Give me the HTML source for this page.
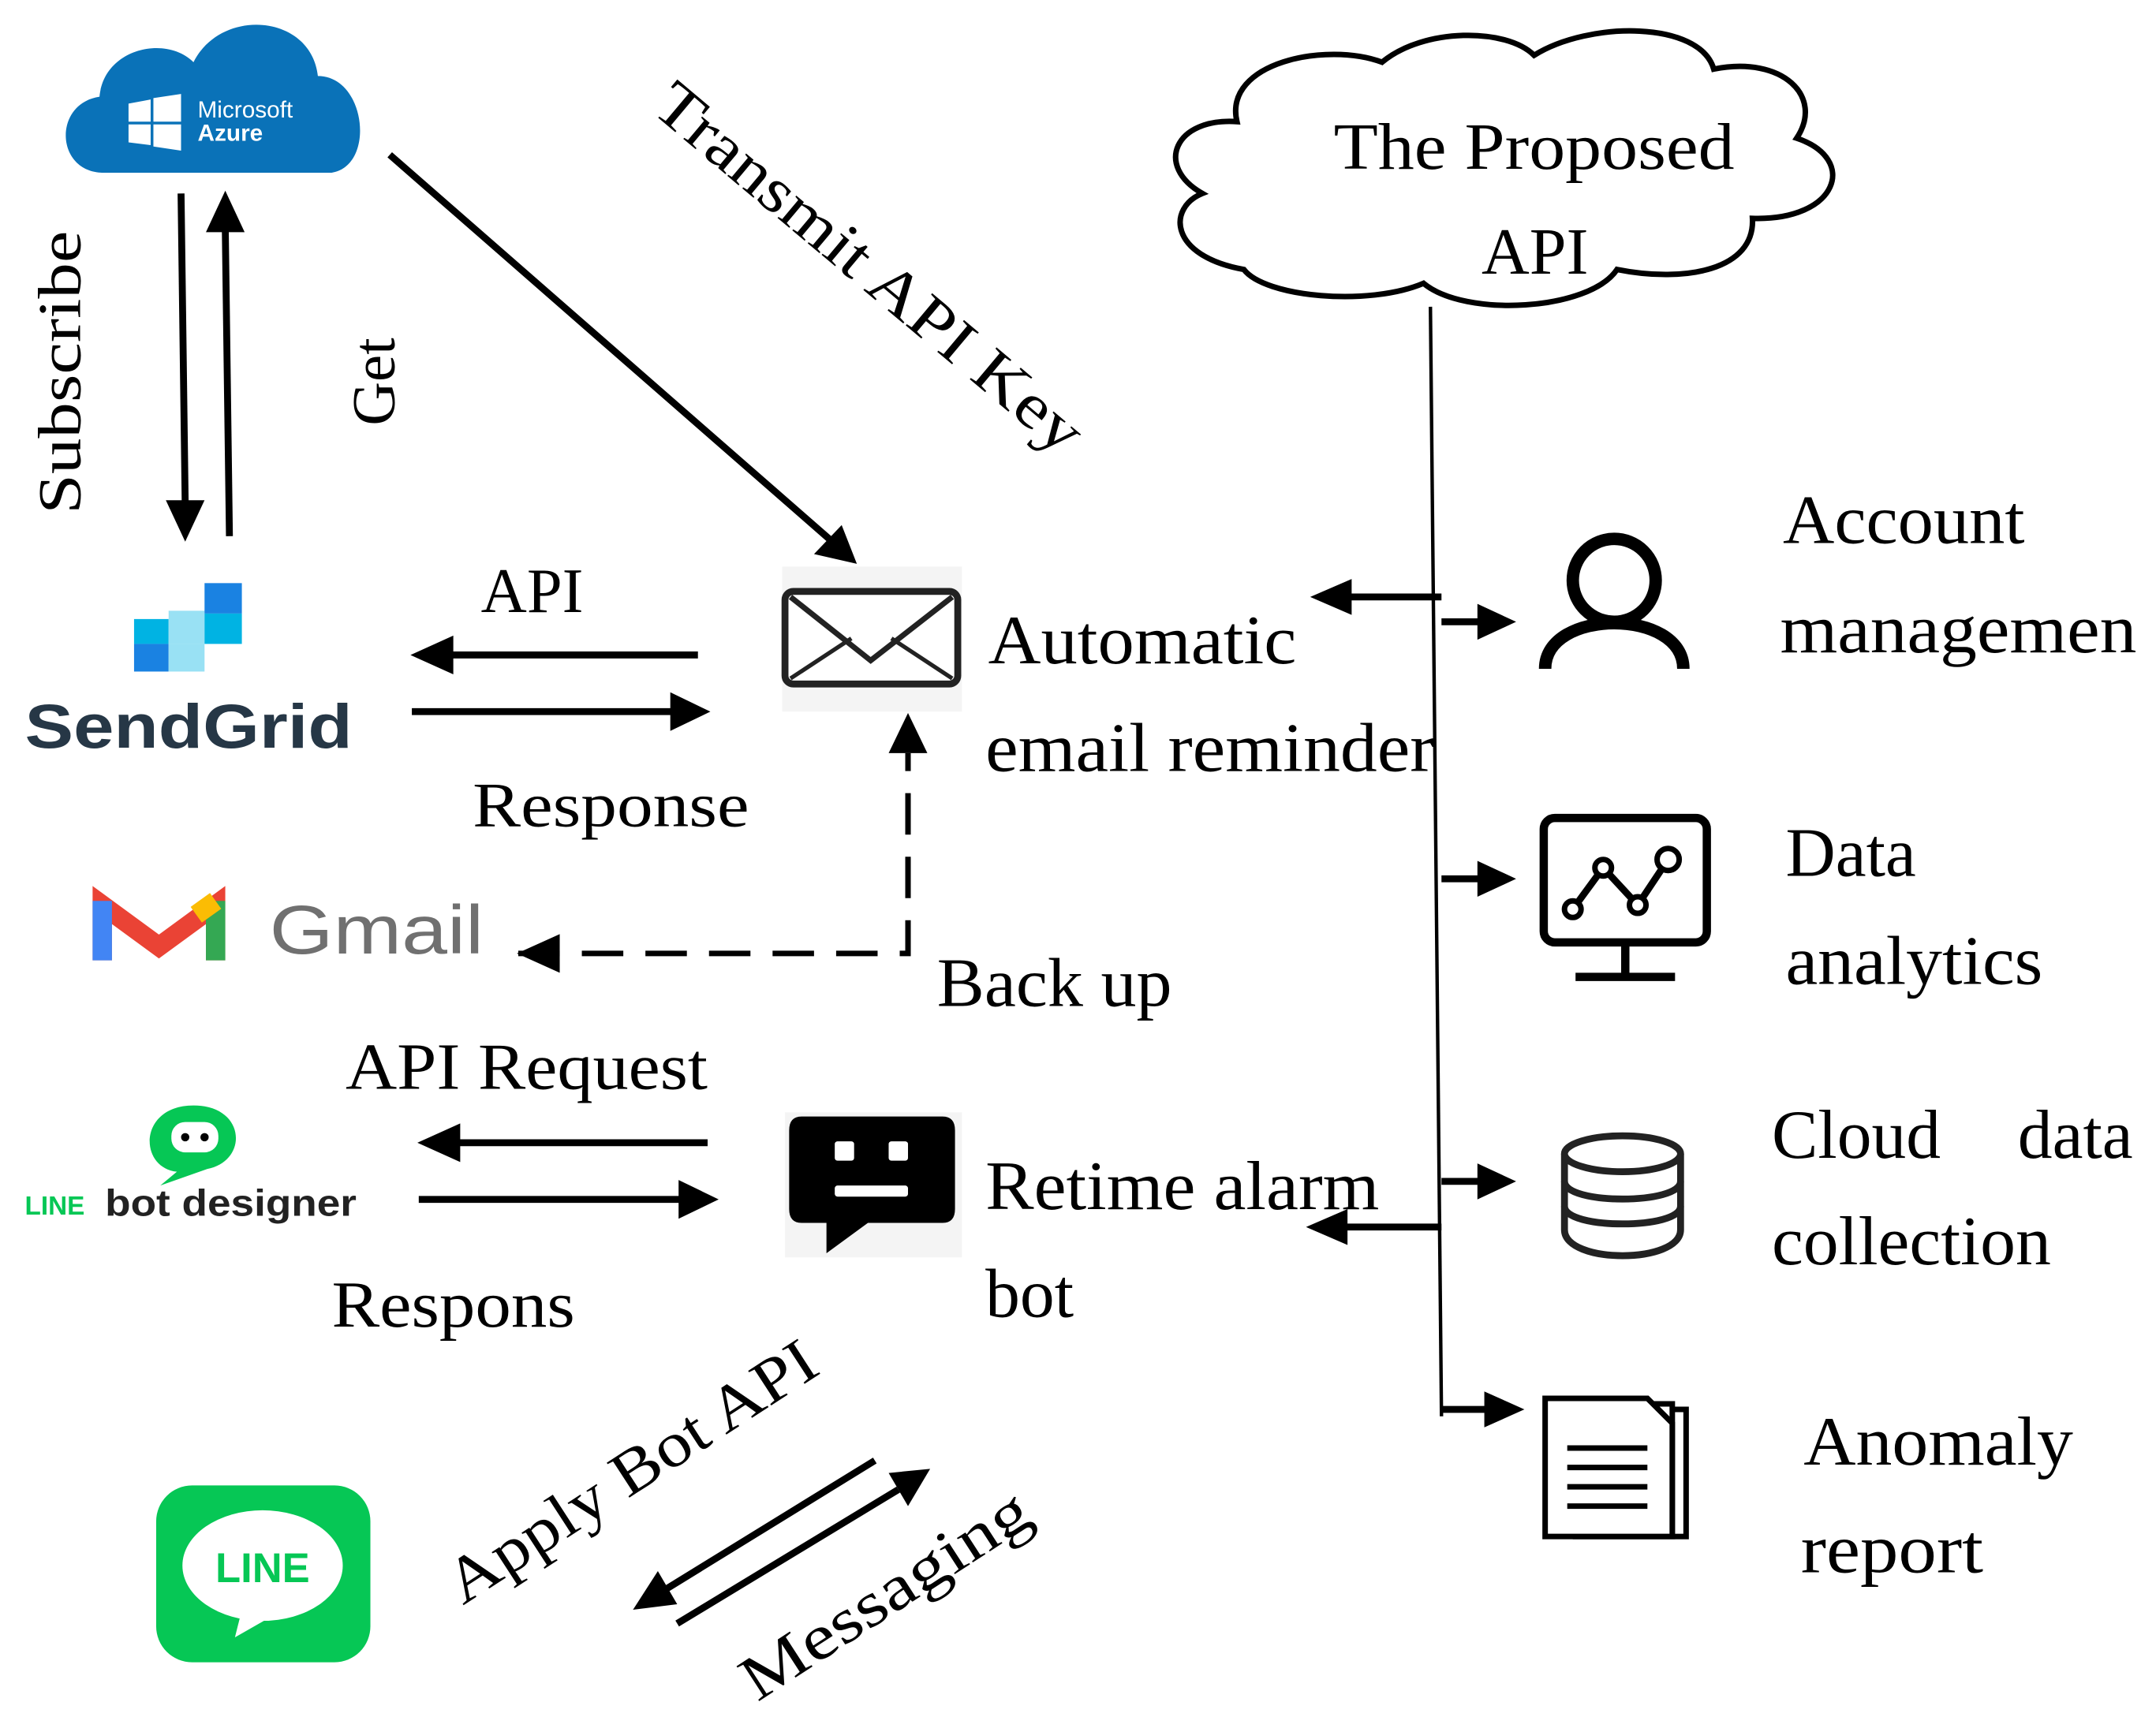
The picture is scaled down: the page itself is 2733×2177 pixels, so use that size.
<!DOCTYPE html>
<html><head><meta charset="utf-8"><style>html,body{margin:0;padding:0;background:#fff}svg{display:block}text{}</style></head>
<body>
<svg width="2733" height="2177" viewBox="0 0 1560 1242.6" xmlns="http://www.w3.org/2000/svg" font-family="Liberation Serif, serif">
<rect width="1560" height="1243" fill="#fff"/>
<!-- Azure cloud -->
<path d="M75,125 C40,125 38,75 72,70 C75,35 120,25 140,45 C160,5 225,10 230,55 C265,55 272,120 240,125 Z" fill="#0a72b8"/>
<g fill="#fff"><path d="M93,75 l16,-3 v16 h-16z M111,71 l20,-3 v20 h-20z M93,90 h16 v15 l-16,-2z M111,90 h20 v19 l-20,-3z"/></g>
<text x="143" y="85" fill="#fff" font-family="Liberation Sans,sans-serif" font-size="17">Microsoft</text>
<text x="143" y="102" fill="#fff" font-family="Liberation Sans,sans-serif" font-size="17" font-weight="bold">Azure</text>
<g stroke="#000" stroke-width="5" fill="none">
<line x1="131" y1="140" x2="134" y2="365"/>
<line x1="166" y1="388" x2="163" y2="165"/>
<line x1="282" y1="112" x2="600" y2="390"/>
<line x1="505" y1="474" x2="325" y2="474"/>
<line x1="298" y1="515" x2="488" y2="515"/>
<line x1="1043" y1="432" x2="975" y2="432"/>
<line x1="1043" y1="450" x2="1072" y2="450"/>
<line x1="1043" y1="636" x2="1072" y2="636"/>
<line x1="1043" y1="855" x2="1072" y2="855"/>
<line x1="1043" y1="888" x2="972" y2="888"/>
<line x1="1043" y1="1020" x2="1077" y2="1020"/>
<line x1="512" y1="827" x2="330" y2="827"/>
<line x1="303" y1="868" x2="494" y2="868"/>
<line x1="633" y1="1057" x2="482" y2="1150"/>
<line x1="490" y1="1175" x2="650" y2="1078"/>
</g>
<g stroke="#000" stroke-width="4" fill="none" stroke-dasharray="30,16">
<polyline points="375,690 657,690 657,545"/>
</g>
<g fill="#000">
<polygon points="120,362 148,362 134,392"/>
<polygon points="149,168 177,168 163,138"/>
<polygon points="589,401 609,380 620,408"/>
<polygon points="328,460 328,488 297,474"/>
<polygon points="485,501 485,529 514,515"/>
<polygon points="978,419 978,445 948,432"/>
<polygon points="1069,437 1069,463 1097,450"/>
<polygon points="1069,623 1069,649 1097,636"/>
<polygon points="1069,842 1069,868 1097,855"/>
<polygon points="975,875 975,901 945,888"/>
<polygon points="1074,1007 1074,1033 1103,1020"/>
<polygon points="333,813 333,841 302,827"/>
<polygon points="491,854 491,882 520,868"/>
<polygon points="643,545 671,545 657,516"/>
<polygon points="405,676 405,704 374,690"/>
<polygon points="476,1137 490,1161 458,1165"/>
<polygon points="643,1066 657,1090 673,1063"/>
</g>
<line x1="1035" y1="222" x2="1043" y2="1025" stroke="#000" stroke-width="2.5"/>
<path d="M900,195 C845,185 845,150 870,140 C835,120 850,85 895,88 C885,45 960,30 1000,45 C1030,20 1090,20 1110,40 C1150,15 1230,15 1240,50 C1290,40 1320,70 1300,100 C1345,115 1330,160 1268,158 C1270,195 1220,205 1170,195 C1150,225 1060,230 1030,205 C990,222 915,215 900,195 Z" fill="#fff" stroke="#000" stroke-width="4"/>
<text x="965" y="122" font-size="48" textLength="290" lengthAdjust="spacingAndGlyphs">The Proposed</text>
<text x="1072" y="198" font-size="48">API</text>
<text transform="translate(58,372) rotate(-90)" font-size="44" textLength="205" lengthAdjust="spacingAndGlyphs">Subscribe</text>
<text transform="translate(285,308) rotate(-90)" font-size="44">Get</text>
<text transform="translate(470,80) rotate(40)" font-size="46" textLength="390" lengthAdjust="spacingAndGlyphs">Transmit API Key</text>
<text transform="translate(335,1162) rotate(-33)" font-size="46" textLength="310" lengthAdjust="spacingAndGlyphs">Apply Bot API</text>
<text transform="translate(548,1232) rotate(-33)" font-size="46" textLength="240" lengthAdjust="spacingAndGlyphs">Messaging</text>
<g><rect x="97" y="448" width="25" height="18" fill="#00b3e3"/><rect x="97" y="466" width="25" height="20" fill="#1a82e2"/><rect x="122" y="442" width="26" height="24" fill="#99e1f4"/><rect x="148" y="422" width="27" height="22" fill="#1a82e2"/><rect x="148" y="444" width="27" height="22" fill="#00b3e3"/><rect x="122" y="466" width="26" height="20" fill="#99e1f4"/></g>
<text x="18" y="541" font-family="Liberation Sans,sans-serif" font-weight="bold" font-size="45" fill="#263746" textLength="237" lengthAdjust="spacingAndGlyphs">SendGrid</text>
<text x="348" y="443" font-size="46">API</text>
<text x="342" y="598" font-size="46" textLength="200" lengthAdjust="spacingAndGlyphs">Response</text>
<rect x="566" y="410" width="130" height="105" fill="#f4f4f4"/>
<rect x="568" y="428" width="125" height="67" rx="6" fill="#fff" stroke="#222" stroke-width="5"/>
<polyline points="572,432 630,478 689,432" fill="none" stroke="#222" stroke-width="4"/>
<line x1="572" y1="491" x2="616" y2="462" stroke="#222" stroke-width="3"/><line x1="689" y1="491" x2="645" y2="462" stroke="#222" stroke-width="3"/>
<text x="715" y="480" font-size="50" textLength="223" lengthAdjust="spacingAndGlyphs">Automatic</text>
<text x="713" y="558" font-size="50" textLength="325" lengthAdjust="spacingAndGlyphs">email reminder</text>
<circle cx="1168" cy="420" r="30" fill="none" stroke="#000" stroke-width="9"/>
<path d="M1118,484 C1118,440 1218,440 1218,484" fill="none" stroke="#000" stroke-width="9"/>
<text x="1290" y="393" font-size="50" textLength="175" lengthAdjust="spacingAndGlyphs">Account</text>
<text x="1288" y="472" font-size="50" textLength="258" lengthAdjust="spacingAndGlyphs">managemen</text>
<path d="M74,695 V655 L115,685 L156,655 V695" fill="none" stroke="#ea4335" stroke-width="14"/>
<path d="M74,695 V652" stroke="#4285f4" stroke-width="14"/><path d="M156,695 V652" stroke="#34a853" stroke-width="14"/>
<path d="M142,662 L156,652" stroke="#fbbc04" stroke-width="14"/>
<text x="195" y="690" font-family="Liberation Sans,sans-serif" font-size="50" fill="#707070" textLength="155" lengthAdjust="spacingAndGlyphs">Gmail</text>
<text x="678" y="728" font-size="50" textLength="170" lengthAdjust="spacingAndGlyphs">Back up</text>
<rect x="1117" y="592" width="118" height="90" rx="8" fill="none" stroke="#000" stroke-width="6"/>
<line x1="1176" y1="682" x2="1176" y2="705" stroke="#000" stroke-width="6"/><line x1="1140" y1="707" x2="1212" y2="707" stroke="#000" stroke-width="6"/>
<polyline points="1138,658 1160,628 1185,655 1207,622" fill="none" stroke="#000" stroke-width="5"/>
<g fill="#fff" stroke="#000" stroke-width="4"><circle cx="1138" cy="658" r="6"/><circle cx="1160" cy="628" r="6"/><circle cx="1185" cy="655" r="6"/><circle cx="1207" cy="622" r="8"/></g>
<text x="1292" y="634" font-size="50">Data</text>
<text x="1292" y="712" font-size="50" textLength="186" lengthAdjust="spacingAndGlyphs">analytics</text>
<path d="M140,800 C100,800 100,845 128,848 L116,858 L150,846 C180,840 178,800 140,800 Z" fill="#06c755"/>
<rect x="124" y="812" width="34" height="22" rx="10" fill="#fff"/><circle cx="134" cy="823" r="3"/><circle cx="148" cy="823" r="3"/>
<text x="18" y="879" font-family="Liberation Sans,sans-serif" font-weight="bold" font-size="19" fill="#06c755">LINE</text>
<text x="76" y="880" font-family="Liberation Sans,sans-serif" font-weight="bold" font-size="27" fill="#222" textLength="182" lengthAdjust="spacingAndGlyphs">bot designer</text>
<text x="250" y="788" font-size="48" textLength="262" lengthAdjust="spacingAndGlyphs">API Request</text>
<text x="240" y="960" font-size="48" textLength="176" lengthAdjust="spacingAndGlyphs">Respons</text>
<rect x="568" y="805" width="128" height="105" fill="#f4f4f4"/>
<path d="M580,808 H682 Q691,808 691,818 V875 Q691,885 682,885 H628 L598,907 V885 H580 Q571,885 571,875 V818 Q571,808 580,808 Z" fill="#000"/>
<rect x="604" y="826" width="14" height="14" rx="2" fill="#fff"/><rect x="643" y="826" width="14" height="14" rx="2" fill="#fff"/><rect x="604" y="858" width="53" height="8" rx="2" fill="#fff"/>
<text x="713" y="875" font-size="50" textLength="285" lengthAdjust="spacingAndGlyphs">Retime alarm</text>
<text x="713" y="953" font-size="50">bot</text>
<g fill="#fff" stroke="#222" stroke-width="5">
<path d="M1132,835 V890 C1132,915 1216,915 1216,890 V835"/>
<ellipse cx="1174" cy="835" rx="42" ry="13"/>
<path d="M1132,855 C1132,872 1216,872 1216,855" fill="none"/>
<path d="M1132,873 C1132,890 1216,890 1216,873" fill="none"/>
</g>
<text x="1282" y="838" font-size="50">Cloud</text><text x="1460" y="838" font-size="50">data</text>
<text x="1282" y="915" font-size="50" textLength="202" lengthAdjust="spacingAndGlyphs">collection</text>
<g fill="#fff" stroke="#000" stroke-width="4">
<rect x="1140" y="1020" width="80" height="92"/>
<rect x="1130" y="1016" width="80" height="92"/>
<path d="M1118,1012 H1192 L1210,1030 V1112 H1118 Z"/>
</g>
<g stroke="#000" stroke-width="4"><line x1="1134" y1="1048" x2="1192" y2="1048"/><line x1="1134" y1="1062" x2="1192" y2="1062"/><line x1="1134" y1="1076" x2="1192" y2="1076"/><line x1="1134" y1="1090" x2="1192" y2="1090"/></g>
<text x="1305" y="1060" font-size="50" textLength="195" lengthAdjust="spacingAndGlyphs">Anomaly</text>
<text x="1303" y="1138" font-size="50" textLength="132" lengthAdjust="spacingAndGlyphs">report</text>
<rect x="113" y="1075" width="155" height="128" rx="26" fill="#06c755"/>
<ellipse cx="190" cy="1133" rx="58" ry="40" fill="#fff"/>
<path d="M175,1165 L170,1185 L205,1165 Z" fill="#fff"/>
<text x="190" y="1145" text-anchor="middle" font-family="Liberation Sans,sans-serif" font-weight="bold" font-size="30" fill="#06c755">LINE</text>
</svg>
</body></html>
